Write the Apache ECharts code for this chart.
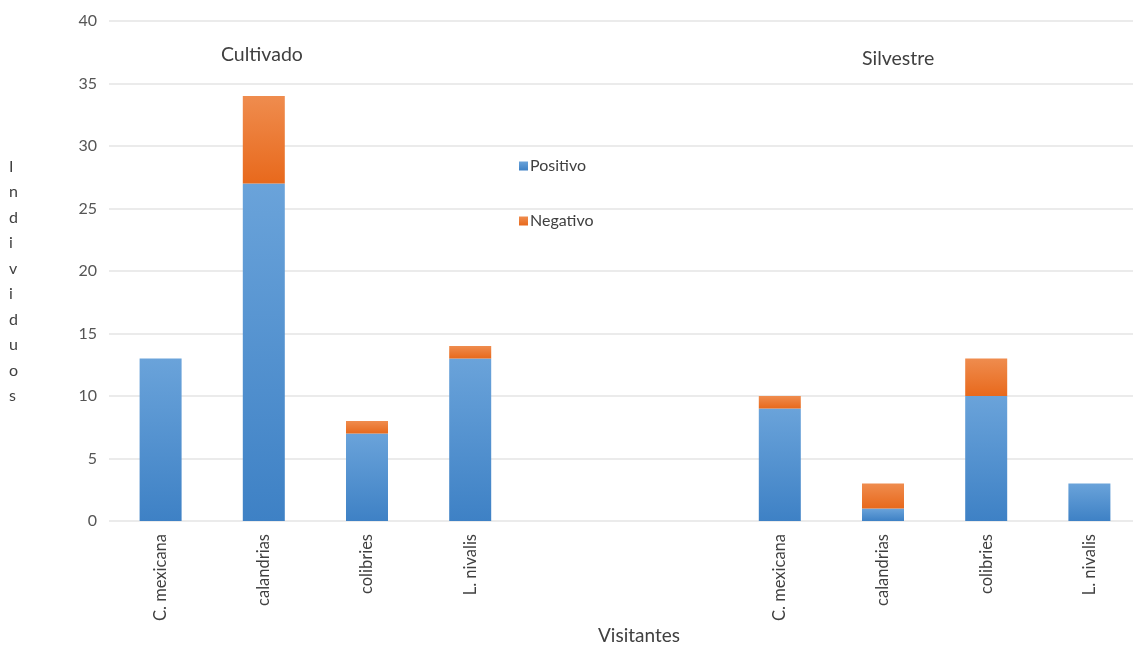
<!DOCTYPE html>
<html><head><meta charset="utf-8">
<script src="https://cdn.jsdelivr.net/npm/echarts@6/dist/echarts.min.js"></script>
<style>html,body{margin:0;padding:0;background:#fff}#c{width:1133px;height:648px}</style>
</head><body><div id="c"></div>
<script>
const categories = ['C. mexicana','calandrias','colibries','L. nivalis','','','C. mexicana','calandrias','colibries','L. nivalis'];
const positivo = [13, 27, 7, 13, null, null, 9, 1, 10, 3];
const negativo = [0, 7, 1, 1, null, null, 1, 2, 3, 0];
const yTicks = {min: 0, max: 40, interval: 5};
const groupLabels = ['Cultivado', 'Silvestre'];
const axisTitles = {x: 'Visitantes', y: 'I\nn\nd\ni\nv\ni\nd\nu\no\ns'};

const FONT = 'Lato';
const chart = echarts.init(document.getElementById('c'), null, {renderer: 'canvas'});
const grad = (a, b) => new echarts.graphic.LinearGradient(0, 0, 0, 1, [{offset: 0, color: a}, {offset: 1, color: b}]);
chart.setOption({
  animation: false,
  textStyle: {fontFamily: FONT},
  grid: {left: 109, top: 21, width: 1032, height: 500, containLabel: false, outerBoundsMode: 'none'},
  legend: {
    orient: 'vertical', left: 514, top: 153, itemGap: 39,
    itemWidth: 9, itemHeight: 9, icon: 'rect',
    textStyle: {fontFamily: FONT, fontSize: 16, color: '#404040', padding: [0, 0, 0, -3]},
    data: ['Positivo', 'Negativo']
  },
  xAxis: {
    type: 'category', data: categories,
    axisLine: {show: false}, axisTick: {show: false},
    axisLabel: {rotate: 90, interval: 0, fontFamily: FONT, fontSize: 16.5, color: '#404040', margin: 13}
  },
  yAxis: {
    type: 'value', min: yTicks.min, max: yTicks.max, interval: yTicks.interval,
    axisLine: {show: false}, axisTick: {show: false},
    axisLabel: {fontFamily: FONT, fontSize: 16, color: '#555', margin: 12},
    splitLine: {lineStyle: {color: '#e4e4e4', width: 1.5}}
  },
  graphic: [
    {type: 'text', left: 9, top: 154, style: {text: axisTitles.y, font: '16px Lato', fill: '#404040', lineHeight: 25.5, align: 'center'}},
    {type: 'text', left: 598, top: 626, style: {text: axisTitles.x, font: '19px Lato', fill: '#404040'}},
    {type: 'text', left: 221, top: 45, style: {text: groupLabels[0], font: '19.5px Lato', fill: '#404040'}},
    {type: 'text', left: 862, top: 49, style: {text: groupLabels[1], font: '19.5px Lato', fill: '#404040'}}
  ],
  series: [
    {name: 'Positivo', type: 'bar', stack: 'a', data: positivo, barWidth: 42,
     itemStyle: {color: grad('#6aa3da', '#3e81c5')}},
    {name: 'Negativo', type: 'bar', stack: 'a', data: negativo, barWidth: 42,
     itemStyle: {color: grad('#ef8c4e', '#e8691c')}}
  ]
});
</script></body></html>
